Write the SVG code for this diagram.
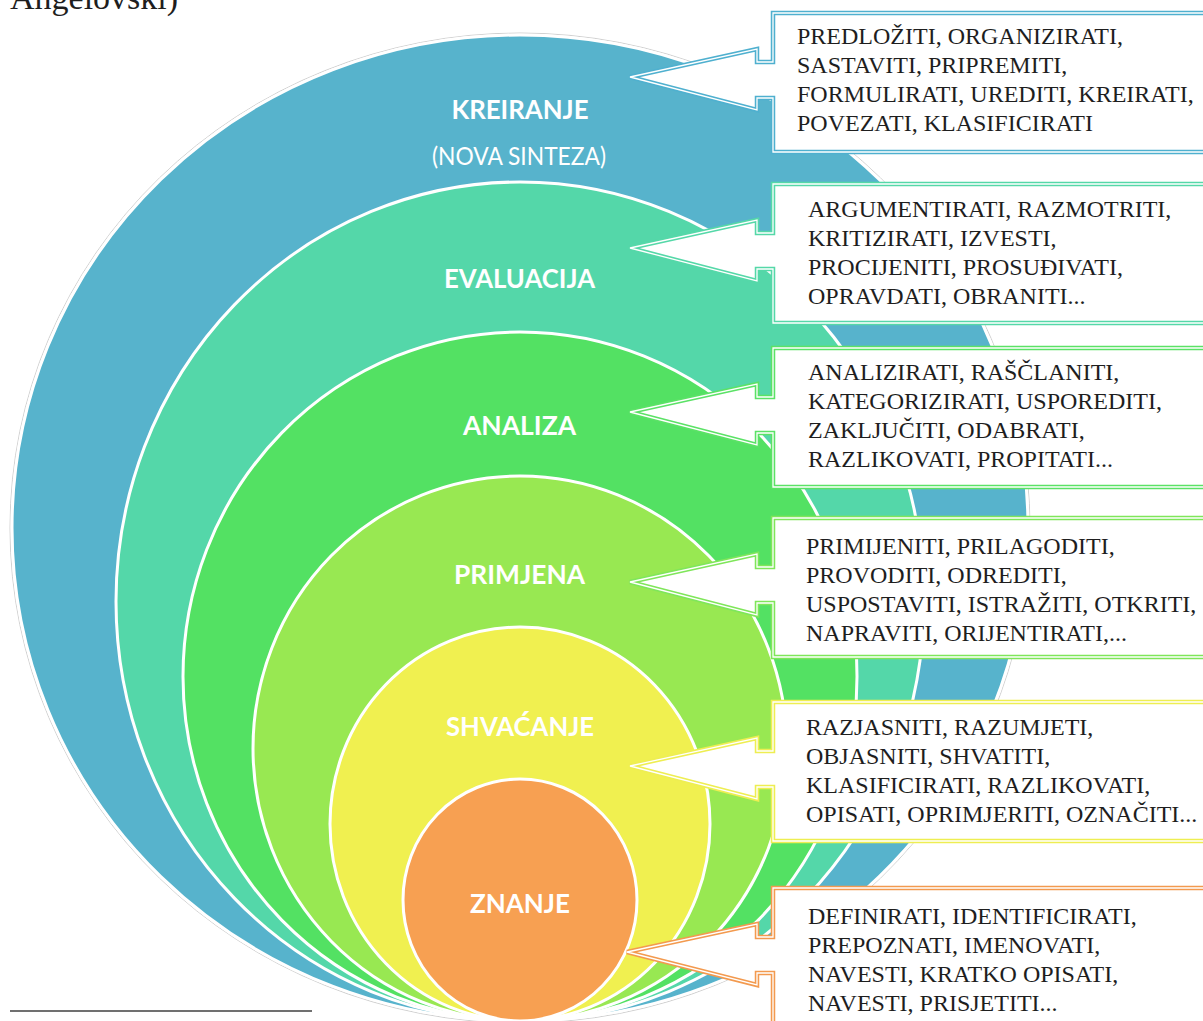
<svg xmlns="http://www.w3.org/2000/svg" width="1203" height="1021" viewBox="0 0 1203 1021">
<style>
.ring{stroke:#ffffff;stroke-width:3}
.lbl{font-family:Lato,"Open Sans","Liberation Sans",sans-serif;font-weight:700;font-size:27px;fill:#ffffff}
.sub{font-family:Lato,"Open Sans","Liberation Sans",sans-serif;font-weight:400;font-size:25px;fill:#ffffff}
.co{fill:#ffffff;stroke-width:4.5;stroke-linejoin:miter}
.coin{fill:none;stroke:#ffffff;stroke-width:1.3}
.txt{font-family:"Liberation Serif","Times New Roman",serif;font-size:24px;fill:#1e1e1e}
.cap{font-family:"Liberation Serif","Times New Roman",serif;font-size:34px;fill:#1e1e1e}
</style>
<rect width="1203" height="1021" fill="#ffffff"/>
<text class="cap" x="10" y="9">Angelovski)</text>
<line x1="10" y1="1011" x2="312" y2="1011" stroke="#404040" stroke-width="1.6"/>

<g id="kreiranje">
<ellipse cx="520" cy="528" rx="510" ry="495" fill="none" stroke="#d0d0d0" stroke-width="1"/>
<ellipse class="ring" cx="520" cy="528" rx="508" ry="493" fill="#57b3cc"/>
<text class="lbl" x="520" y="119" text-anchor="middle" textLength="137" lengthAdjust="spacingAndGlyphs">KREIRANJE</text>
<text class="sub" x="519" y="165" text-anchor="middle" textLength="174" lengthAdjust="spacingAndGlyphs">(NOVA SINTEZA)</text>
</g>
<g id="evaluacija">
<ellipse class="ring" cx="520" cy="601.5" rx="404" ry="419.5" fill="#54d7a9"/>
<text class="lbl" x="519.5" y="288" text-anchor="middle" textLength="151" lengthAdjust="spacingAndGlyphs">EVALUACIJA</text>
</g>
<g id="analiza">
<ellipse class="ring" cx="520" cy="676.5" rx="337" ry="344.5" fill="#53e163"/>
<text class="lbl" x="519.5" y="435" text-anchor="middle" textLength="113" lengthAdjust="spacingAndGlyphs">ANALIZA</text>
</g>
<g id="primjena">
<ellipse class="ring" cx="520" cy="748.5" rx="267" ry="272.5" fill="#98e852"/>
<text class="lbl" x="519.5" y="584" text-anchor="middle" textLength="131" lengthAdjust="spacingAndGlyphs">PRIMJENA</text>
</g>
<g id="shvacanje">
<ellipse class="ring" cx="520" cy="824" rx="190" ry="197" fill="#f0f050"/>
<text class="lbl" x="520" y="736" text-anchor="middle" textLength="148" lengthAdjust="spacingAndGlyphs">SHVAĆANJE</text>
</g>
<g id="znanje">
<ellipse class="ring" cx="520" cy="900" rx="117" ry="121" fill="#f7a052"/>
<text class="lbl" x="520" y="913" text-anchor="middle" textLength="100" lengthAdjust="spacingAndGlyphs">ZNANJE</text>
</g>

<g id="callout-kreiranje">
<path class="co" stroke="#4fb0cf" d="M1215,13 H773 V62 H757 V49 L630,77 L757,110 V98 H773 V152 H1215 Z"/>
<path class="coin" d="M1215,13 H773 V62 H757 V49 L630,77 L757,110 V98 H773 V152 H1215 Z"/>
<text class="txt" x="797" y="44">PREDLOŽITI, ORGANIZIRATI,</text>
<text class="txt" x="797" y="73">SASTAVITI, PRIPREMITI,</text>
<text class="txt" x="797" y="102">FORMULIRATI, UREDITI, KREIRATI,</text>
<text class="txt" x="797" y="131">POVEZATI, KLASIFICIRATI</text>
</g>
<g id="callout-evaluacija">
<path class="co" stroke="#55d8a8" d="M1215,184 H773 V233 H757 V220 L630,248 L757,281 V269 H773 V323 H1215 Z"/>
<path class="coin" d="M1215,184 H773 V233 H757 V220 L630,248 L757,281 V269 H773 V323 H1215 Z"/>
<text class="txt" x="808" y="217">ARGUMENTIRATI, RAZMOTRITI,</text>
<text class="txt" x="808" y="246">KRITIZIRATI, IZVESTI,</text>
<text class="txt" x="808" y="275">PROCIJENITI, PROSUĐIVATI,</text>
<text class="txt" x="808" y="304">OPRAVDATI, OBRANITI...</text>
</g>
<g id="callout-analiza">
<path class="co" stroke="#5be266" d="M1215,348 H773 V397 H757 V384 L630,412 L757,445 V433 H773 V487 H1215 Z"/>
<path class="coin" d="M1215,348 H773 V397 H757 V384 L630,412 L757,445 V433 H773 V487 H1215 Z"/>
<text class="txt" x="808" y="380">ANALIZIRATI, RAŠČLANITI,</text>
<text class="txt" x="808" y="409">KATEGORIZIRATI, USPOREDITI,</text>
<text class="txt" x="808" y="438">ZAKLJUČITI, ODABRATI,</text>
<text class="txt" x="808" y="467">RAZLIKOVATI, PROPITATI...</text>
</g>
<g id="callout-primjena">
<path class="co" stroke="#7fe65a" d="M1215,518 H773 V567 H757 V554 L630,582 L757,615 V603 H773 V657 H1215 Z"/>
<path class="coin" d="M1215,518 H773 V567 H757 V554 L630,582 L757,615 V603 H773 V657 H1215 Z"/>
<text class="txt" x="806" y="554">PRIMIJENITI, PRILAGODITI,</text>
<text class="txt" x="806" y="583">PROVODITI, ODREDITI,</text>
<text class="txt" x="806" y="612">USPOSTAVITI, ISTRAŽITI, OTKRITI,</text>
<text class="txt" x="806" y="641">NAPRAVITI, ORIJENTIRATI,...</text>
</g>
<g id="callout-shvacanje">
<path class="co" stroke="#eeee52" d="M1215,702 H773 V751 H757 V738 L630,766 L757,799 V787 H773 V841 H1215 Z"/>
<path class="coin" d="M1215,702 H773 V751 H757 V738 L630,766 L757,799 V787 H773 V841 H1215 Z"/>
<text class="txt" x="806" y="735">RAZJASNITI, RAZUMJETI,</text>
<text class="txt" x="806" y="764">OBJASNITI, SHVATITI,</text>
<text class="txt" x="806" y="793">KLASIFICIRATI, RAZLIKOVATI,</text>
<text class="txt" x="806" y="822">OPISATI, OPRIMJERITI, OZNAČITI...</text>
</g>
<g id="callout-znanje">
<path class="co" stroke="#f39a4f" d="M1215,888 H773 V937 H757 V924 L627,952 L757,985 V973 H773 V1027 H1215 Z"/>
<path class="coin" d="M1215,888 H773 V937 H757 V924 L627,952 L757,985 V973 H773 V1027 H1215 Z"/>
<text class="txt" x="808" y="924">DEFINIRATI, IDENTIFICIRATI,</text>
<text class="txt" x="808" y="953">PREPOZNATI, IMENOVATI,</text>
<text class="txt" x="808" y="982">NAVESTI, KRATKO OPISATI,</text>
<text class="txt" x="808" y="1011">NAVESTI, PRISJETITI...</text>
</g>
</svg>
